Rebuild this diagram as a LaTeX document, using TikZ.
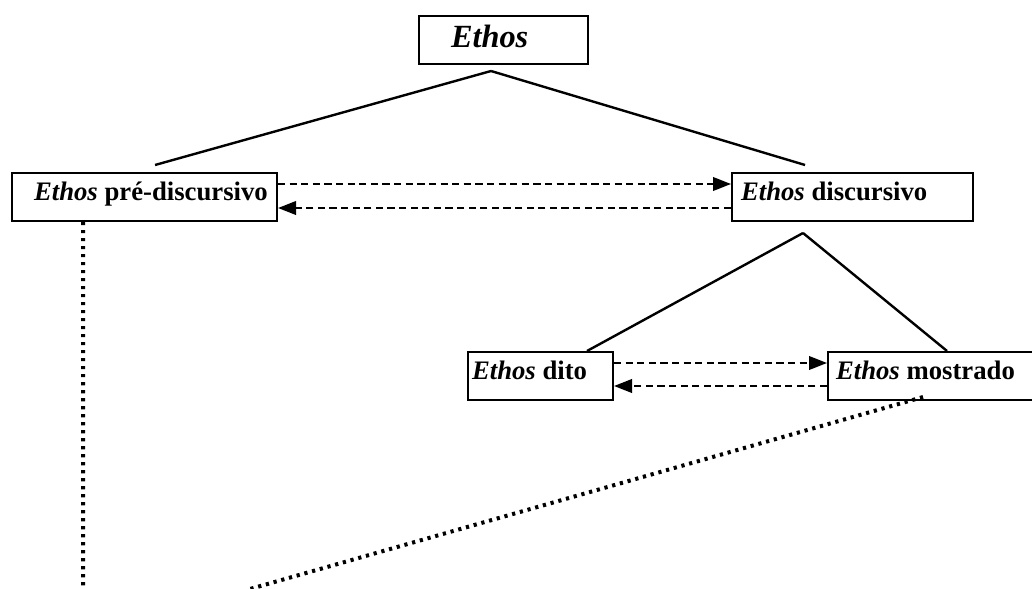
\documentclass[tikz,border=0pt]{standalone}
\usepackage{fontspec}
\setmainfont{Liberation Serif}
\usetikzlibrary{arrows.meta}

\begin{document}
\begin{tikzpicture}[x=0.025cm,y=-0.025cm,
    ethbox/.style={draw,line width=0.05cm,inner sep=0pt,
      minimum height=1.2cm,anchor=north west,
      font=\fontsize{19}{22}\selectfont\bfseries},
    tree/.style={line width=0.06cm},
    link/.style={line width=0.05cm,dash pattern=on 0.18cm off 0.11cm,
      -{Triangle[length=0.45cm,width=0.34cm]}},
    reach/.style={line width=0.1cm,dash pattern=on 0.08cm off 0.12cm}]
  \useasboundingbox (0,0) rectangle (1032,589);

  % boxes
  \node[ethbox,font=\fontsize{23}{26}\selectfont\bfseries\itshape] (ethos) at (418,15)
        {\raisebox{-0.175cm}[0pt][0pt]{\makebox[4.225cm][l]{\hspace*{0.8cm}Ethos}}};
  \node[ethbox] (pre) at (11,172)
        {\raisebox{-0.075cm}[0pt][0pt]{\makebox[6.625cm][l]{\hspace*{0.55cm}\textit{Ethos} pré-discursivo}}};
  \node[ethbox] (disc) at (731,172)
        {\raisebox{-0.075cm}[0pt][0pt]{\makebox[6.025cm][l]{\hspace*{0.225cm}\textit{Ethos} discursivo}}};
  \node[ethbox] (dito) at (467,351)
        {\raisebox{-0.075cm}[0pt][0pt]{\makebox[3.625cm][l]{\hspace*{0.1cm}\textit{Ethos} dito}}};
  \node[ethbox] (most) at (827,351)
        {\raisebox{-0.075cm}[0pt][0pt]{\makebox[5.5cm][l]{\hspace*{0.2cm}\textit{Ethos} mostrado}}};

  % tree lines
  \coordinate (apexA) at ([xshift=1.825cm,yshift=-0.15cm]ethos.south west);
  \coordinate (apexB) at ([xshift=1.8cm,yshift=-0.275cm]disc.south west);
  \draw[tree] (apexA) -- ([xshift=3.6cm,yshift=0.175cm]pre.north west);
  \draw[tree] (apexA) -- ([xshift=1.85cm,yshift=0.175cm]disc.north west);
  \draw[tree] (apexB) -- ([xshift=3cm]dito.north west);
  \draw[tree] (apexB) -- ([xshift=3cm]most.north west);

  % two-way dashed arrows
  \draw[link] ([yshift=0.325cm]pre.east) -- ([yshift=0.325cm]disc.west);
  \draw[link] ([yshift=-0.275cm]disc.west) -- ([yshift=-0.275cm]pre.east);
  \draw[link] ([yshift=0.325cm]dito.east) -- ([yshift=0.325cm]most.west);
  \draw[link] ([yshift=-0.25cm]most.west) -- ([yshift=-0.25cm]dito.east);

  % dotted lines running off the bottom
  \coordinate (footL) at (83,589);
  \coordinate (footR) at (250,589);
  \draw[reach] ([xshift=1.8cm]pre.south west) -- (footL);
  \draw[reach] ([xshift=2.4cm,yshift=0.1cm]most.south west) -- (footR);
\end{tikzpicture}
\end{document}
